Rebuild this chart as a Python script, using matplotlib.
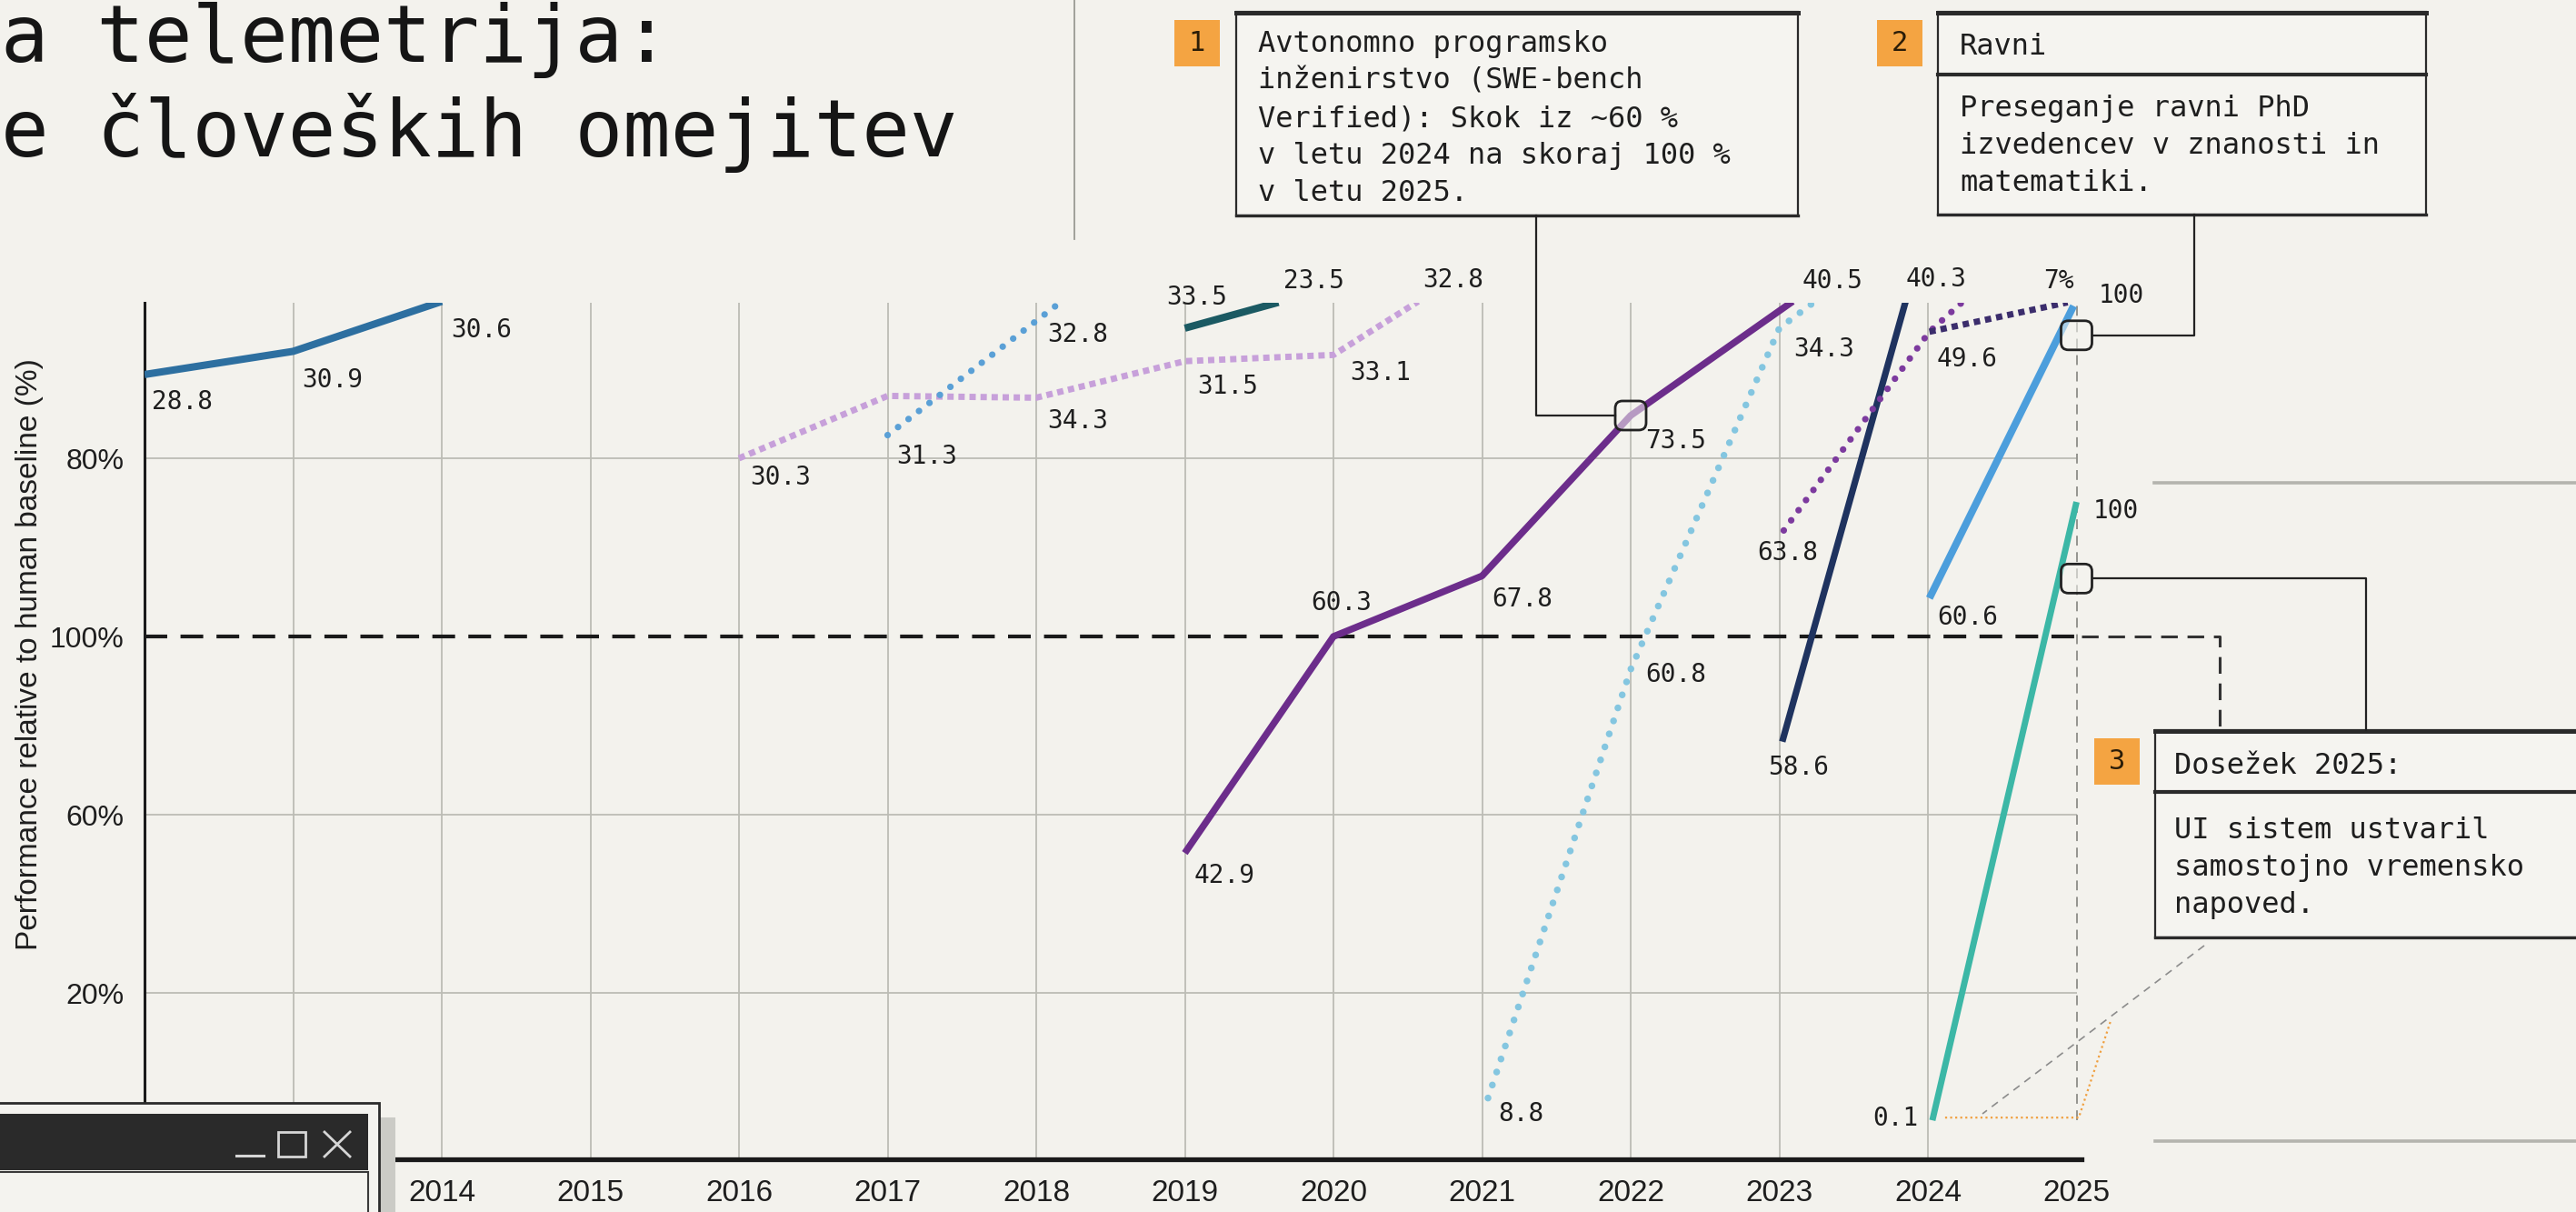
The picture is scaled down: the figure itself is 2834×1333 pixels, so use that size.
import matplotlib
matplotlib.use('Agg')
import matplotlib.pyplot as plt
from matplotlib import transforms
from matplotlib.patches import Rectangle, FancyBboxPatch
from matplotlib.lines import Line2D

W, H = 2834, 1333
BG = '#f3f2ed'
INK = '#1e1e1e'
MONO = 'DejaVu Sans Mono'
SANS = 'Liberation Sans'

# ---------------------------------------------------------------- data
years = list(range(2012, 2026))
ytick_pos = [80, 60, 40, 20]
ytick_labels = ['80%', '100%', '60%', '20%']
baseline_pos = 60          # the dashed "100%" line

a_x = [2012, 2013, 2014]
a_y = [89.4, 92.0, 97.6]
a_lab = ['28.8', '30.9', '30.6']

b_x = [2016, 2017, 2018, 2019, 2020, 2020.57]
b_y = [80.0, 87.0, 86.8, 90.9, 91.6, 97.6]
b_lab = ['30.3', None, '34.3', '31.5', '33.1', '32.8']

c_x = [2017, 2018.17]
c_y = [82.6, 97.6]
c_lab = ['31.3', '32.8']

d_x = [2019, 2019.63]
d_y = [94.6, 97.5]
d_lab = ['33.5', '23.5']

e_x = [2019, 2020, 2021, 2022, 2023.09]
e_y = [35.7, 60.0, 66.8, 84.8, 97.6]
e_lab = ['42.9', '60.3', '67.8', '73.5', '40.5']

f_x = [2021.04, 2022, 2023, 2023.24]
f_y = [8.2, 56.3, 94.6, 97.6]
f_lab = ['8.8', '60.8', '34.3', None]

g_x = [2023.02, 2023.85]
g_y = [48.2, 97.6]
g_lab = ['58.6', '40.3']

h_x = [2023.03, 2024.01, 2024.25]
h_y = [71.9, 94.2, 97.8]
h_lab = ['63.8', '49.6', None]

i_x = [2024.01, 2024.94]
i_y = [94.2, 97.5]
i_lab = [None, '7%']

j_x = [2024.01, 2024.98]
j_y = [64.3, 97.1]
j_lab = ['60.6', '100']

k_x = [2024.03, 2025]
k_y = [5.7, 75.1]
k_lab = ['0.1', '100']

# callout anchor points (year, position)
anchors = [(2022, 84.8), (2025, 93.8), (2025, 66.5)]

title_lines = ['a telemetrija:', 'e človeških omejitev']
ylabel = 'Performance relative to human baseline (%)'
box1_text = ['Avtonomno programsko', 'inženirstvo (SWE-bench', 'Verified): Skok iz ~60 %',
             'v letu 2024 na skoraj 100 %', 'v letu 2025.']
box2_title = 'Ravni'
box2_text = ['Preseganje ravni PhD', 'izvedencev v znanosti in', 'matematiki.']
box3_title = 'Dosežek 2025:'
box3_text = ['UI sistem ustvaril', 'samostojno vremensko', 'napoved.']

# ---------------------------------------------------------------- styles
series = [
    (a_x, a_y, a_lab, dict(color='#2d6fa0', lw=5.8, ls='-')),
    (b_x, b_y, b_lab, dict(color='#c7a0da', lw=5.0, ls=(0, (1.0, 0.75)), dash_capstyle='butt')),
    (c_x, c_y, c_lab, dict(color='#5aa0d6', lw=5.2, ls=(0, (0.01, 2.0)), dash_capstyle='round')),
    (d_x, d_y, d_lab, dict(color='#1b5a63', lw=5.8, ls='-')),
    (e_x, e_y, e_lab, dict(color='#6c2d8b', lw=5.4, ls='-')),
    (f_x, f_y, f_lab, dict(color='#84c6e0', lw=5.4, ls=(0, (0.01, 2.0)), dash_capstyle='round')),
    (g_x, g_y, g_lab, dict(color='#1f335f', lw=5.2, ls='-')),
    (h_x, h_y, h_lab, dict(color='#7c3a9e', lw=5.2, ls=(0, (0.01, 1.9)), dash_capstyle='round')),
    (i_x, i_y, i_lab, dict(color='#3b2d6c', lw=5.0, ls=(0, (1.0, 0.8)), dash_capstyle='butt')),
    (j_x, j_y, j_lab, dict(color='#4c9edc', lw=5.8, ls='-')),
    (k_x, k_y, k_lab, dict(color='#3cb7a6', lw=5.0, ls='-')),
]

# label offsets in pixels (dx right, dy down) + alignment, one per point
label_offsets = [
    [(8, 30, 'left'), (10, 32, 'left'), (10, 31, 'left')],
    [(12, 21, 'left'), None, (12, 26, 'left'), (14, 28, 'left'), (18, 20, 'left'), (5, -24, 'left')],
    [(10, 23, 'left'), (-16, 36, 'left')],
    [(-20, -34, 'left'), (5, -24, 'left')],
    [(10, 25, 'left'), (-25, -37, 'left'), (11, 26, 'left'), (16, 28, 'left'), (10, -23, 'left')],
    [(11, 17, 'left'), (16, 6, 'left'), (16, 23, 'left'), None],
    [(-16, 28, 'left'), (0, -25, 'left')],
    [(-29, 25, 'left'), (8, 30, 'left'), None],
    [None, (-27, -24, 'left')],
    [(9, 21, 'left'), (27, -11, 'left')],
    [(-15, -2, 'right'), (18, 10, 'left')],
]

# ---------------------------------------------------------------- figure
fig = plt.figure(figsize=(W / 100, H / 100), dpi=100, facecolor=BG)
# pixel coordinates, origin at top-left of the picture
PX = transforms.Affine2D().scale(1 / W, -1 / H).translate(0, 1) + fig.transFigure

ax_l, ax_r, ax_t, ax_b = 159, 2289.5, 333, 1275
ax = fig.add_axes([ax_l / W, 1 - ax_b / H, (ax_r - ax_l) / W, (ax_b - ax_t) / H])
ax.set_facecolor(BG)
ax.set_xlim(2012, 2012 + (ax_r - ax_l) / 163.5)
ax.set_ylim(1.33, 1.33 + (ax_b - ax_t) / 9.8)


def to_px(x, y):
    d = ax.transData.transform((x, y))
    return d[0], H - d[1]


# grid
ylo, yhi = ax.get_ylim()
ax.vlines(years[1:-1], ylo, yhi, color='#bcbcb5', lw=1.3, zorder=0)
ax.hlines([p for p in ytick_pos if p != baseline_pos], years[0], years[-1],
          color='#bcbcb5', lw=1.3, zorder=0)
ax.hlines(baseline_pos, years[0], ax.get_xlim()[1], color='#1a1a1a', lw=3,
          linestyles=[(0, (6, 3.5))], zorder=1)
ax.plot([years[-1], years[-1]], [k_y[0], yhi], color='#8d8d88', lw=1.3,
        ls=(0, (6, 4)), zorder=1)

for sp in ['top', 'right']:
    ax.spines[sp].set_visible(False)
ax.spines['left'].set_linewidth(2.2)
ax.spines['left'].set_color('#1a1a1a')
ax.spines['bottom'].set_linewidth(3.8)
ax.spines['bottom'].set_color('#1a1a1a')

ax.set_xticks(years)
ax.set_xticklabels([str(y) for y in years], fontsize=24, family=SANS, color=INK)
ax.set_yticks(ytick_pos)
ax.set_yticklabels(ytick_labels, fontsize=23, family=SANS, color=INK)
ax.tick_params(axis='x', length=0, pad=16)
ax.tick_params(axis='y', length=0, pad=16)

# series and value labels
for (xs, ys, labs, st), offs in zip(series, label_offsets):
    ax.plot(xs, ys, solid_capstyle='butt', zorder=3, **st)
    for xv, yv, lab, off in zip(xs, ys, labs, offs):
        if lab is None:
            continue
        dx, dy, ha = off
        ax.annotate(lab, (xv, yv), xytext=(dx, -dy), textcoords='offset pixels',
                    ha=ha, va='center', fontsize=20, family=MONO, color=INK,
                    annotation_clip=False, zorder=4)

# ---------------------------------------------------------------- decoration
def line(xs, ys, **kw):
    fig.add_artist(Line2D(xs, ys, transform=PX, **kw))


def rect(x, y, w, h, **kw):
    fig.add_artist(Rectangle((x, y), w, h, transform=PX, **kw))


# title (starts at the left edge)
fig.text(1, 68, title_lines[0], transform=PX, fontsize=63, family=MONO,
         color='#151515', va='baseline')
fig.text(1, 172, title_lines[1], transform=PX, fontsize=63, family=MONO,
         color='#151515', va='baseline')
line([1182, 1182], [0, 263], color='#9a9a94', lw=1.3)

fig.text(33, 720, ylabel, transform=PX, rotation=90, ha='center', va='center',
         fontsize=24, family=SANS, color=INK)

# side rules
line([2370, 2834], [531, 531], color='#b4b4ae', lw=2.6)
line([2371, 2834], [1255, 1255], color='#b4b4ae', lw=2.6)


def callout(x0, y0, x1, y1, badge, num, divider=None):
    rect(x0, y0, x1 - x0, y1 - y0, fc='#f5f4f0', ec='#2a2a2a', lw=1.6)
    line([x0, x1], [y0 + 1, y0 + 1], color='#2a2a2a', lw=3.6)
    line([x0, x1], [y1, y1], color='#2a2a2a', lw=2.4)
    if divider:
        line([x0, x1], [divider, divider], color='#2a2a2a', lw=3.0)
    bx, by = badge
    rect(bx, by, 50, 51, fc='#f4a442', ec='none')
    fig.text(bx + 25, by + 26, num, transform=PX, ha='center', va='center',
             fontsize=22, family=MONO, color='#2b1d08')


callout(1360, 13, 1978, 237, (1292, 22), '1')
for n, s in enumerate(box1_text):
    fig.text(1384, 57 + 41 * n, s, transform=PX, va='baseline', fontsize=23,
             family=MONO, color=INK)

callout(2132, 13, 2669, 236, (2065, 22), '2', divider=82)
fig.text(2156, 60, box2_title, transform=PX, va='baseline', fontsize=23, family=MONO, color=INK)
for n, s in enumerate(box2_text):
    fig.text(2156, 128 + 41 * n, s, transform=PX, va='baseline', fontsize=23,
             family=MONO, color=INK)

callout(2371, 803, 2845, 1031, (2304, 812), '3', divider=871)
fig.text(2392, 851, box3_title, transform=PX, va='baseline', fontsize=23, family=MONO, color=INK)
for n, s in enumerate(box3_text):
    fig.text(2392, 922 + 41 * n, s, transform=PX, va='baseline', fontsize=23,
             family=MONO, color=INK)

# anchor markers and connectors
apx = [to_px(*a) for a in anchors]
for mx, my in apx:
    fig.add_artist(FancyBboxPatch((mx - 17, my - 16), 34, 32,
                                  boxstyle='round,pad=0,rounding_size=8', transform=PX,
                                  fc=(0.96, 0.96, 0.94, 0.55), ec='#222222', lw=2.0))
(m1x, m1y), (m2x, m2y), (m3x, m3y) = apx
line([1690, 1690, m1x - 17], [237, m1y, m1y], color='#222222', lw=1.6)
line([2414, 2414, m2x + 17], [236, m2y, m2y], color='#222222', lw=1.6)
line([m3x + 17, 2603, 2603], [m3y, m3y, 803], color='#222222', lw=1.6)
bx_, by_ = to_px(ax.get_xlim()[1], baseline_pos)
line([bx_, 2442, 2442], [by_, by_, 803], color='#333333', lw=2.2, ls=(0, (6, 3.5)))

# faint guide lines near the 2024-2025 teal series
kx, ky = to_px(k_x[0], k_y[0])
line([2425, 2181], [1040, 1225], color='#8c8c8c', lw=1.2, ls=(0, (5, 4)))
line([kx + 14, 2287, 2322], [ky - 3, ky - 3, 1123], color='#f0a040', lw=1.6, ls=(0, (1, 1.5)))

# window overlay, bottom-left
rect(418, 1229, 17, 110, fc='#cbcbc6', ec='none')
rect(-5, 1213, 422, 130, fc='#f4f3ef', ec='#2b2b2b', lw=2.0)
rect(-5, 1225, 410, 62, fc='#2a2a2a', ec='none')
rect(-5, 1289, 410, 60, fc='#f4f3ef', ec='#3a3a3a', lw=1.5)
line([260, 290], [1271, 1271], color='#d6d6d6', lw=2.2)
rect(306, 1245, 30, 27, fc='none', ec='#d6d6d6', lw=2.0)
line([357, 385], [1245, 1272], color='#d6d6d6', lw=2.0)
line([357, 385], [1272, 1245], color='#d6d6d6', lw=2.0)

fig.savefig('out.png', dpi=100, facecolor=BG)
